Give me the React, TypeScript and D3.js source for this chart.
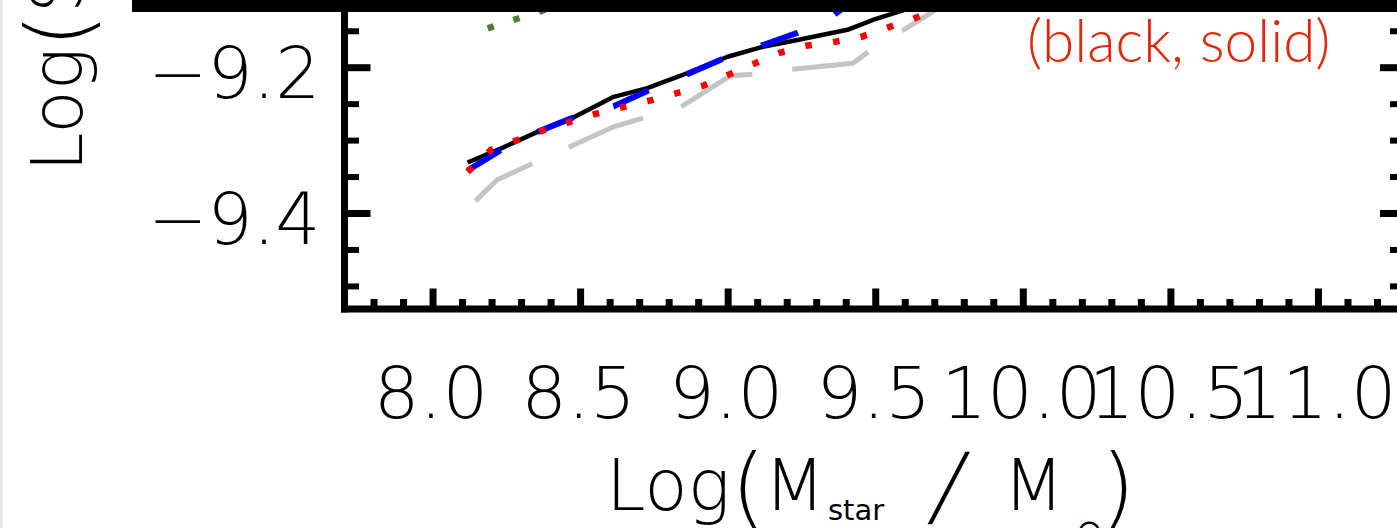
import React from 'react';
import * as d3 from 'd3';

// Median specific star-formation rate versus stellar mass for each model run.
const blackMass = [8.117, 8.229, 8.354, 8.477, 8.612, 8.726, 8.839, 8.998, 9.11, 9.235, 9.404, 9.493, 9.595, 9.7];
const blackSSFR = [-9.33, -9.311, -9.288, -9.268, -9.24, -9.228, -9.211, -9.185, -9.172, -9.162, -9.148, -9.134, -9.121, -9.1];

const blueMass = [8.117, 8.229, 8.354, 8.477, 8.612, 8.726, 8.839, 8.998, 9.11, 9.235, 9.357, 9.45];
const blueSSFR = [-9.341, -9.313, -9.288, -9.268, -9.253, -9.232, -9.213, -9.185, -9.17, -9.152, -9.128, -9.1];

const redMass = [8.117, 8.195, 8.365, 8.544, 8.727, 8.913, 8.999, 9.171, 9.262, 9.354, 9.449, 9.54, 9.628, 9.737];
const redSSFR = [-9.343, -9.313, -9.287, -9.264, -9.246, -9.225, -9.21, -9.18, -9.17, -9.165, -9.158, -9.145, -9.133, -9.114];

const greyMass = [8.144, 8.216, 8.612, 8.839, 9.008, 9.083, 9.219, 9.422, 9.483, 9.686, 9.78];
const greySSFR = [-9.383, -9.354, -9.281, -9.254, -9.211, -9.209, -9.202, -9.194, -9.176, -9.125, -9.1];

const greenMass = [8.185, 8.36, 8.6];
const greenSSFR = [-9.146, -9.123, -9.09];

const xTickValues = [8.0, 8.5, 9.0, 9.5, 10.0, 10.5, 11.0];
const xTickLabels = ['8.0', '8.5', '9.0', '9.5', '10.0', '10.5', '11.0'];
const yTickValues = [-9.2, -9.4];
const yTickLabels = ['\u22129.2', '\u22129.4'];

const W = 1397;
const H = 528;

const x = d3.scaleLinear().domain([7.7, 11.3]).range([344.5, 1407]);
const y = d3.scaleLinear().domain([-9.531, -9.0]).range([309, 309 - 0.531 * 729]);

const xMinor = d3.range(78, 113).map((i) => i / 10).filter((v) => Math.abs(v * 2 - Math.round(v * 2)) > 1e-6);
const yAll = d3.range(0, 11).map((i) => -9.5 + i * 0.05);
const yMajorAll = yAll.filter((v) => Math.abs(v * 5 - Math.round(v * 5)) < 1e-6);
const yMinor = yAll.filter((v) => Math.abs(v * 5 - Math.round(v * 5)) >= 1e-6);

const lineGen = (xs: number[], ys: number[]) =>
  d3.line<number>().x((_, i) => x(xs[i])).y((_, i) => y(ys[i]))(xs) || '';

const tickFont = '"DejaVu Sans", sans-serif';

export default function App() {
  return (
    <svg
      width={W}
      height={H}
      viewBox={`0 0 ${W} ${H}`}
      style={{ position: 'absolute', left: 0, top: 0, background: '#fff' }}
    >
      <rect x={0} y={0} width={W} height={H} fill="#fff" />
      <rect x={0} y={0} width={2.5} height={H} fill="#e1e5eb" />

      {/* model curves */}
      <g fill="none" strokeLinejoin="round">
        <path d={lineGen(greyMass, greySSFR)} stroke="#c4c4c4" strokeWidth={5} strokeDasharray="80 40" strokeDashoffset={11} />
        <path d={lineGen(blackMass, blackSSFR)} stroke="#000" strokeWidth={4.5} />
        <path d={lineGen(blueMass, blueSSFR)} stroke="#0000ff" strokeWidth={6} strokeDasharray="39 41" />
        <path d={lineGen(redMass, redSSFR)} stroke="#ff0000" strokeWidth={6.5} strokeDasharray="6.5 21.5" />
        <path d={lineGen(greenMass, greenSSFR)} stroke="#557a35" strokeWidth={6.5} strokeDasharray="6.5 20.5" />
      </g>

      {/* frame */}
      <g stroke="#000">
        <line x1={344.5} x2={344.5} y1={-10} y2={312.5} strokeWidth={7} />
        <line x1={341} x2={1410} y1={309} y2={309} strokeWidth={7} />
        <line x1={1407} x2={1407} y1={-10} y2={312.5} strokeWidth={7} />
        {xTickValues.map((v) => (
          <line key={`xM${v}`} x1={x(v)} x2={x(v)} y1={309} y2={288.5} strokeWidth={7} />
        ))}
        {xMinor.map((v) => (
          <line key={`xm${v}`} x1={x(v)} x2={x(v)} y1={309} y2={299} strokeWidth={7} />
        ))}
        {yMajorAll.map((v) => (
          <g key={`yM${v}`}>
            <line x1={344.5} x2={370.5} y1={y(v)} y2={y(v)} strokeWidth={7} />
            <line x1={1407} x2={1380} y1={y(v)} y2={y(v)} strokeWidth={7} />
          </g>
        ))}
        {yMinor.map((v) => (
          <g key={`ym${v}`}>
            <line x1={344.5} x2={359} y1={y(v)} y2={y(v)} strokeWidth={6} />
            <line x1={1407} x2={1390} y1={y(v)} y2={y(v)} strokeWidth={6} />
          </g>
        ))}
      </g>

      {/* tick labels */}
      <g fontFamily={tickFont} fontWeight={200} fill="#000">
        {xTickValues.map((v, i) => (
          <text key={`xl${v}`} x={x(v) - 2} y={418} fontSize={72} textAnchor="middle">
            {xTickLabels[i]}
          </text>
        ))}
        {yTickValues.map((v, i) => (
          <text key={`yl${v}`} x={320.5} y={y(v) + 30} fontSize={71} textAnchor="end">
            {yTickLabels[i]}
          </text>
        ))}
      </g>

      {/* axis titles */}
      <g fontFamily={tickFont} fontWeight={200} fill="#000">
        <text x={606} y={510} fontSize={71}>Log</text>
        <text x={731} y={516} fontSize={88}>(</text>
        <text x={764} y={510} fontSize={71}>M</text>
        <text x={828} y={520} fontSize={29} fontWeight={400}>star</text>
        <text transform="translate(928,516) skewX(-12)" fontSize={88}>/</text>
        <text x={1003} y={510} fontSize={71}>M</text>
        <text x={1076} y={542} fontSize={32} fontWeight={400}>{'\u2299'}</text>
        <text x={1101} y={516} fontSize={88}>)</text>

        <text transform="translate(82,172) rotate(-90)" fontSize={71}>
          <tspan>Log</tspan>
          <tspan fontSize={88} dy={6}>(</tspan>
          <tspan dy={-6}>SSFR / yr</tspan>
          <tspan fontSize={40} dy={-30}>{'\u22121'}</tspan>
          <tspan fontSize={88} dy={36}>)</tspan>
        </text>
      </g>

      {/* legend annotation */}
      <text x={1027} y={62} fontSize={58.5} fontFamily="Lato, sans-serif" fontWeight={300} fill="#e4270a">
        (black, solid)
      </text>

      <rect x={132} y={0} width={W - 132} height={12} fill="#000" />
    </svg>
  );
}
